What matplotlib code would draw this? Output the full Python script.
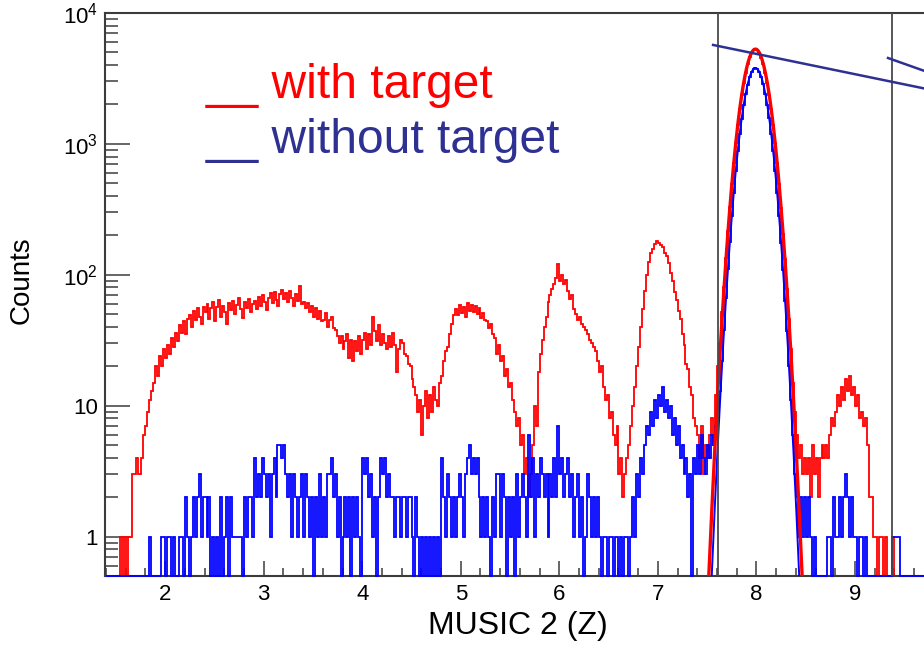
import numpy as np
import matplotlib.pyplot as plt
from matplotlib.ticker import FixedLocator, LogLocator, MultipleLocator, NullFormatter

plt.rcParams["font.family"] = ["Liberation Sans", "DejaVu Sans"]
plt.rcParams["mathtext.fontset"] = "custom"
plt.rcParams["mathtext.rm"] = "Liberation Sans"

# MUSIC 2 charge spectrum, 0.02 wide bins starting at Z = 1.40
bin_lo = 1.40
bin_width = 0.02

with_target = (
    [0] * 7 + [1, 0, 1, 0, 1, 1, 3, 3, 4, 3, 3, 4, 6, 7, 9, 11, 13, 15]
    + [20, 17, 24, 20, 27, 23, 29, 25, 33, 28, 36, 31, 41, 36, 44, 35, 46, 49, 40, 53, 45, 56, 48, 42, 57]
    + [52, 60, 46, 56, 62, 44, 57, 64, 48, 58, 52, 42, 61, 54, 63, 50, 59, 66, 55, 47, 62, 56, 65, 52, 60]
    + [63, 55, 68, 58, 70, 62, 54, 67, 72, 61, 74, 64, 58, 71, 76, 65, 73, 62, 75, 66, 58, 71, 63, 82, 60]
    + [62, 56, 61, 52, 58, 48, 56, 46, 53, 44, 45, 51, 40, 45, 48, 39, 38, 34, 30, 34, 27, 31, 35, 23, 32]
    + [22, 31, 26, 34, 25, 32, 36, 27, 35, 29, 48, 37, 31, 41, 29, 35, 30, 27, 34, 28, 36, 29, 18, 27, 32]
    + [30, 25, 24, 21, 20, 16, 14, 12, 9, 11, 6, 10, 13, 8, 12, 9, 14, 11, 10, 15, 17, 22, 26, 28, 35]
    + [42, 49, 55, 49, 59, 51, 57, 48, 61, 53, 59, 52, 58, 50, 56, 47, 51, 45, 44, 39, 42, 35, 33, 25, 29]
    + [22, 24, 17, 19, 14, 15, 11, 9, 7, 8, 5, 6, 3, 4, 2, 3, 5, 10, 7, 18, 25, 32, 40, 48, 62]
    + [70, 78, 85, 95, 120, 90, 100, 85, 92, 75, 65, 70, 55, 50, 45, 48, 42, 40, 38, 35, 32, 30, 28, 26, 22]
    + [18, 20, 14, 11, 12, 8, 9, 6, 5, 7, 3, 4, 2, 3, 4, 5, 7, 10, 14, 20, 28, 40, 55, 75, 100]
    + [125, 148, 158, 172, 182, 175, 168, 162, 148, 140, 122, 103, 90, 74, 64, 53, 46, 35, 29, 21, 19, 14, 12, 8, 7]
    + [6, 4, 7, 3, 5, 4, 6, 8, 5, 12, 20, 30, 52, 80, 135, 215, 330, 495, 720, 1010, 1390, 1850, 2350, 2920, 3510]
    + [4060, 4580, 4950, 5220, 5300, 5200, 4970, 4560, 4070, 3500, 2930, 2350, 1845, 1385, 1020, 715, 490, 326, 206, 131, 78, 46, 27, 15, 9]
    + [6, 4, 5, 3, 4, 3, 4, 2, 5, 3, 4, 2, 4, 5, 4, 5, 4, 6, 8, 7, 9, 12, 10, 14, 11]
    + [16, 13, 17, 12, 14, 10, 12, 8, 9, 7, 8, 5, 2, 2, 1, 1, 0, 1, 1, 0, 1, 0, 0, 0, 1]
    + [0] * 25
    + [0] * 5
)

without_target = (
    [0] * 22 + [1, 0, 0]
    + [0, 0, 0, 1, 1, 0, 1, 1, 0, 1, 0, 0, 1, 1, 0, 2, 1, 0, 1, 2, 1, 2, 3, 1, 2]
    + [2, 1, 2, 0, 1, 0, 1, 0, 2, 0, 1, 2, 0, 2, 1, 1, 1, 1, 1, 0, 2, 1, 2, 2, 1]
    + [4, 2, 3, 2, 4, 3, 2, 3, 1, 3, 4, 2, 5, 5, 4, 5, 3, 2, 3, 1, 3, 2, 1, 2, 3]
    + [1, 3, 2, 1, 2, 0, 2, 1, 3, 1, 2, 1, 3, 3, 4, 2, 3, 1, 2, 0, 1, 2, 1, 2, 0]
    + [2, 1, 2, 1, 0, 4, 3, 4, 2, 3, 1, 2, 0, 2, 4, 3, 4, 2, 3, 2, 2, 1, 2, 2, 1]
    + [2, 2, 1, 2, 2, 1, 0, 2, 1, 0, 1, 0, 1, 0, 1, 0, 1, 0, 1, 0, 4, 2, 1, 3, 2]
    + [1, 2, 1, 2, 3, 2, 1, 3, 4, 5, 3, 4, 3, 4, 2, 1, 2, 1, 2, 1, 0, 2, 1, 3, 3]
    + [1, 3, 2, 0, 2, 1, 2, 0, 3, 1, 2, 3, 2, 1, 6, 2, 4, 1, 3, 2, 4, 3, 2, 3, 1]
    + [3, 2, 4, 2, 7, 3, 4, 2, 3, 4, 2, 3, 1, 2, 3, 1, 2, 0, 1, 3, 2, 1, 2, 1, 2]
    + [1, 0, 1, 1, 0, 1, 1, 0, 1, 1, 0, 1, 0, 1, 1, 0, 1, 2, 1, 3, 2, 4, 3, 5, 7]
    + [6, 9, 7, 11, 8, 12, 10, 14, 9, 11, 8, 10, 6, 8, 5, 7, 4, 5, 3, 4, 2, 3, 0, 4, 3]
    + [5, 3, 6, 4, 3, 5, 4, 6, 5, 7, 9, 13, 22, 38, 66, 110, 178, 280, 425, 620, 875, 1190, 1560, 1980, 2410]
    + [2840, 3230, 3530, 3730, 3800, 3735, 3530, 3225, 2845, 2415, 1975, 1565, 1188, 876, 618, 424, 280, 176, 109, 63, 37, 20, 11, 6, 3]
    + [2, 1, 2, 1, 2, 1, 2, 1, 0, 1, 0, 0, 0, 0, 0, 0, 1, 1, 0, 2, 1, 1, 2, 1, 2]
    + [3, 2, 1, 2, 1, 1, 0, 1, 1, 0, 1, 0, 0, 0, 0, 0, 0, 0, 0, 0, 0, 0, 0, 0, 1]
    + [1, 1, 1] + [0] * 22
    + [0] * 5
)

# gaussian fits of the Z = 8 peak: amplitude, mean, sigma, fit range
fit_with = (5300, 7.99, 0.110)
fit_without = (3800, 7.99, 0.105)
fit_range = (7.45, 8.55)

# Z = 8 gate
gate_x = [7.61, 9.38]

# pointer lines running off to the right
pointer_a_x = [7.56, 10.2]
pointer_a_y = [5700, 2220]
pointer_b_x = [9.335, 10.2]
pointer_b_y = [4530, 2660]

x_ticks = [2, 3, 4, 5, 6, 7, 8, 9]
y_ticks = [1, 10, 100, 1000, 10000]
y_ticklabels = ["1", "10", r"$\mathregular{10^{2}}$", r"$\mathregular{10^{3}}$", r"$\mathregular{10^{4}}$"]

y_min, y_max = 0.5, 1e4
navy = "#2e3192"
frame = "#3c3c3c"

fig = plt.figure(figsize=(9.24, 6.49), dpi=100)
ax = fig.add_axes([105 / 924, 1 - 576 / 649, 1 - 105 / 924, (576 - 13) / 649])

edges = bin_lo + bin_width * np.arange(len(with_target) + 1)
red = np.array(with_target, dtype=float)
blue = np.array(without_target, dtype=float)
# empty bins sit on the bottom of the frame
ax.stairs(np.where(red > 0, red, y_min), edges, baseline=None, color="red", lw=1.3, clip_on=False, zorder=2)
ax.stairs(np.where(blue > 0, blue, y_min), edges, baseline=None, color="blue", lw=1.3, clip_on=False, zorder=3)

xf = np.linspace(fit_range[0], fit_range[1], 400)
for (amp, mu, sig), col, lw, z in [(fit_without, "blue", 1.4, 4), (fit_with, "red", 2.4, 5)]:
    ax.plot(xf, amp * np.exp(-0.5 * ((xf - mu) / sig) ** 2), color=col, lw=lw, zorder=z)

for gx in gate_x:
    ax.axvline(gx, color="#4a4a4a", lw=1.3, zorder=6)

ax.plot(pointer_a_x, pointer_a_y, color=navy, lw=1.8, zorder=7)
ax.plot(pointer_b_x, pointer_b_y, color=navy, lw=1.8, zorder=7)

ax.set_yscale("log")
ax.set_xlim(1.39, 9.70)
ax.set_ylim(y_min, y_max)

ax.xaxis.set_major_locator(FixedLocator(x_ticks))
ax.xaxis.set_minor_locator(MultipleLocator(0.2))
ax.yaxis.set_major_locator(FixedLocator(y_ticks))
ax.set_yticklabels(y_ticklabels)
ax.yaxis.set_minor_locator(LogLocator(base=10, subs=np.arange(2, 10)))
ax.yaxis.set_minor_formatter(NullFormatter())

ax.tick_params(axis="both", which="both", direction="in", color=frame, width=1.1,
               labelsize=16, top=False, right=False)
ax.tick_params(axis="y", which="major", length=18, pad=5)
ax.tick_params(axis="y", which="minor", length=9.5)
ax.tick_params(axis="x", which="major", length=10.5, pad=6)
ax.tick_params(axis="x", which="minor", length=5.8)

for side in ["left", "bottom", "top"]:
    ax.spines[side].set_color(frame)
    ax.spines[side].set_linewidth(1.5)
ax.spines["right"].set_visible(False)

fig.text(22 / 924, 1 - 280 / 649, "Counts", rotation=90, ha="center", va="center", fontsize=20)
fig.text(518 / 924, 1 - 626 / 649, "MUSIC 2 (Z)", ha="center", va="center", fontsize=23)

fig.text(206 / 924, 1 - 98 / 649, "__ with target", color="red", fontsize=34.5, va="baseline")
fig.text(206 / 924, 1 - 153 / 649, "__ without target", color=navy, fontsize=34.5, va="baseline")

fig.savefig("out.png", dpi=100)
